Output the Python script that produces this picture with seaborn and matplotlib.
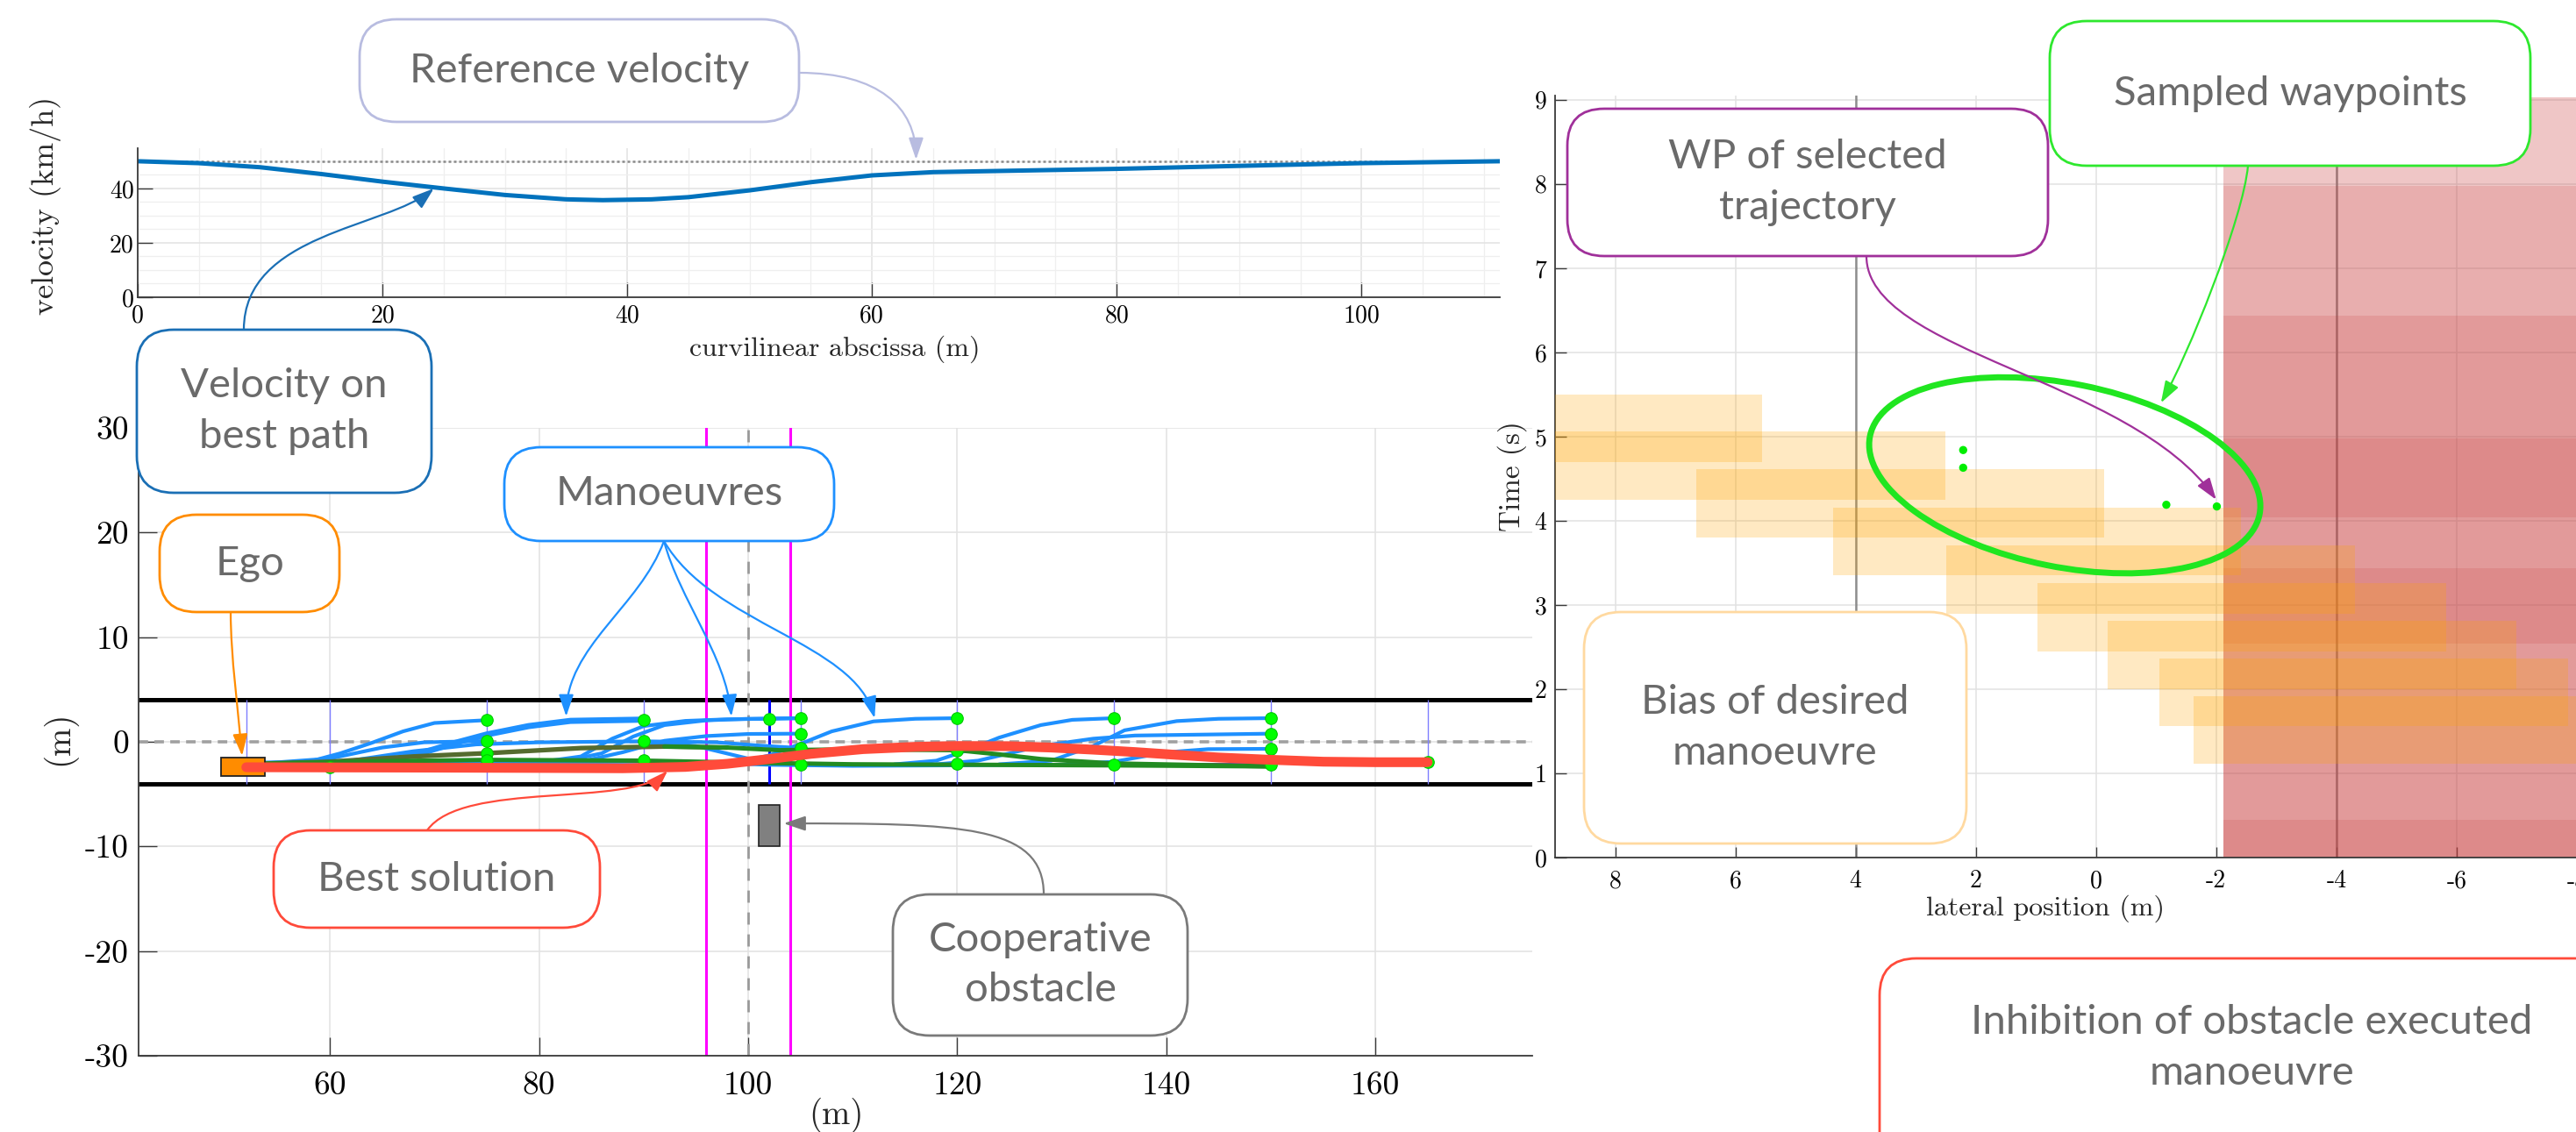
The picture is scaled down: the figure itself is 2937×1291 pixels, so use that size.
import numpy as np
import seaborn as sns
import matplotlib.pyplot as plt
from matplotlib.patches import Rectangle, FancyBboxPatch, FancyArrowPatch, Ellipse
from matplotlib.path import Path
from matplotlib.transforms import IdentityTransform, ScaledTranslation
from matplotlib.ticker import MultipleLocator

W, H = 2937, 1291

# ---- velocity panel ----
abscissa = [0, 5, 10, 15, 20, 25, 30, 35, 38, 42, 45, 50, 55, 60, 65, 70, 80, 90, 100, 111.3]
velocity = [50, 49.3, 47.8, 45.3, 42.5, 40, 37.6, 36.0, 35.7, 36.0, 36.8, 39.3, 42.3, 44.8, 46.0, 46.4, 47.2, 48.3, 49.3, 50.0]
ref_abscissa = [0, 111.3]
ref_velocity = [50, 50]

# ---- manoeuvre panel ----
road_edges = [4, -4]
stations = [52, 60, 75, 90, 105, 120, 135, 150, 165]
crossing_lines = [96, 104]
obstacle_line = 100
obstacle_track = 102
ego_box = [49.6, -3.3, 4.2, 1.75]        # x, y, length, width
obstacle_box = [101, -10, 2, 4]

blue_x = [
    [53, 58, 61, 64, 67, 70, 75],
    [53, 60, 65, 69, 75],
    [53, 62, 68, 74, 80, 90, 97, 101, 105],
    [53, 70, 90, 96, 102, 110, 120, 135],
    [80, 84, 87, 90, 94, 98, 102, 105],
    [82, 86, 89, 92, 96, 100, 105],
    [84, 88, 92, 96, 100, 105],
    [90, 95, 100, 105],
    [99, 102, 105, 108, 112, 116, 120],
    [114, 118, 121, 124, 128, 131, 135],
    [124, 129, 133, 136, 141, 145, 150],
    [118, 122, 128, 133, 137, 150],
    [130, 135, 140, 144, 150],
    [135, 142, 150],
]
blue_y = [
    [-2.1, -1.9, -1.1, -0.1, 1.0, 1.8, 2.07],
    [-2.1, -1.6, -0.55, -0.05, 0.08],
    [-2.1, -1.8, -0.9, -0.25, -0.05, 0.05, -0.05, -0.35, -0.6],
    [-2.1, -2.0, -1.9, -2.0, -2.2, -2.3, -2.25, -2.15],
    [-1.95, -1.4, 0.3, 1.5, 2.0, 2.15, 2.2, 2.26],
    [-1.95, -1.1, 0.5, 1.6, 2.05, 2.2, 2.26],
    [-1.9, -1.0, 0.1, 0.55, 0.75, 0.78],
    [0.05, -0.4, -1.6, -2.2],
    [-2.0, -1.3, -0.2, 1.0, 1.95, 2.2, 2.26],
    [-2.15, -1.8, -0.8, 0.4, 1.6, 2.1, 2.26],
    [-2.15, -1.8, -0.4, 1.1, 1.98, 2.2, 2.26],
    [-2.15, -1.8, -0.4, 0.3, 0.6, 0.78],
    [-2.2, -1.9, -1.0, -0.7, -0.67],
    [-2.15, -2.2, -2.2],
]
blue_thick_x = [53, 62, 66, 69, 72, 75, 79, 83, 90]
blue_thick_y = [-2.1, -2.0, -1.7, -1.0, -0.1, 0.7, 1.5, 2.0, 2.12]

olive_x = [53, 60, 68, 75, 84, 92, 98]
olive_y = [-2.1, -1.9, -1.4, -1.09, -0.6, -0.45, -0.55]
green_x = [
    [92, 98, 103, 110, 120, 124, 128, 135, 150],
    [53, 65, 75, 90, 100, 110, 135, 150],
]
green_y = [
    [-0.45, -0.55, -0.8, -0.72, -0.8, -1.2, -1.65, -2.07, -2.35],
    [-2.1, -1.85, -1.73, -1.8, -2.0, -2.15, -2.25, -2.35],
]
purple_x = [135, 150]
purple_y = [-2.1, -2.1]

best_x = [52, 60, 70, 80, 88, 94, 98, 102, 106, 111, 116, 120, 125, 129, 133, 137, 141, 145, 150, 155, 160, 165]
best_y = [-2.43, -2.45, -2.47, -2.5, -2.53, -2.4, -2.1, -1.65, -1.15, -0.7, -0.48, -0.4, -0.42, -0.55, -0.75,
          -0.98, -1.25, -1.5, -1.72, -1.9, -1.95, -1.95]

wp_x = [60, 75, 75, 75, 75, 90, 90, 90, 102, 105, 105, 105, 105, 120, 120, 120, 135, 135, 150, 150, 150, 150, 165]
wp_y = [-2.4, 2.07, 0.08, -1.09, -1.73, 2.12, 0.05, -1.79, 2.2, 2.26, 0.78, -0.6, -2.2, 2.26, -0.8, -2.07,
        2.26, -2.15, 2.26, 0.78, -0.67, -2.2, -1.95]

# ---- time / lateral panel ----
inhib_start = -2.12
inhib_t0 = [0, 0, 0, 4.04, 2.54, 0]
inhib_t1 = [9.03, 7.98, 6.44, 4.98, 3.44, 0.45]
bias_left = [12.36, 9.31, 6.65, 4.37, 2.49, 0.97, -0.2, -1.05, -1.62]
bias_right = [5.56, 2.51, -0.14, -2.41, -4.31, -5.82, -7.0, -7.86, -8.42]
bias_t0 = [4.70, 4.25, 3.80, 3.35, 2.90, 2.45, 2.00, 1.56, 1.11]
bias_t1 = [5.50, 5.06, 4.61, 4.16, 3.71, 3.26, 2.81, 2.36, 1.92]
lane_marks = [4, -4]
sampled_lat = [2.21, 2.21, -1.17, -2.01]
sampled_t = [4.84, 4.63, 4.19, 4.17]

sns.set_theme(style="white")
plt.rcParams.update({
    "font.family": "cmr10",
    "mathtext.fontset": "cm",
    "axes.unicode_minus": False,
    "axes.edgecolor": "#262626",
})
CALLOUT_FONT = ["Lato", "DejaVu Sans"]

fig = plt.figure(figsize=(W / 100, H / 100), dpi=100)


def ax_rect(x0, y0, x1, y1):
    return [x0 / W, 1 - y1 / H, (x1 - x0) / W, (y1 - y0) / H]


def matlab_axes(ax, labelsize, padx, pady, ticklen=12):
    for s in ["top", "right"]:
        ax.spines[s].set_visible(False)
    for s in ["left", "bottom"]:
        ax.spines[s].set_linewidth(1.3)
        ax.spines[s].set_color("#3a3a3a")
    ax.tick_params(which="major", direction="in", length=ticklen, width=1.0, color="#3a3a3a",
                   labelsize=labelsize, labelcolor="black", bottom=True, left=True)
    ax.tick_params(which="minor", length=0)
    ax.tick_params(axis="x", pad=padx)
    ax.tick_params(axis="y", pad=pady)
    ax.grid(True, which="major", color="#e2e2e2", lw=1.1)
    ax.set_axisbelow(True)


def place_labels(ax, xl, yl, xpos, ypos, xsize, ysize):
    ax.set_xlabel(xl, fontsize=xsize)
    ax.set_ylabel(yl, fontsize=ysize)
    ax.xaxis.set_label_coords(*xpos)
    ax.yaxis.set_label_coords(*ypos)
    ax.xaxis.label.set_verticalalignment("center")
    ax.yaxis.label.set_verticalalignment("center")


# ---------------- velocity ----------------
ax_v = fig.add_axes(ax_rect(157, 169, 1710, 339))
sns.lineplot(x=ref_abscissa, y=ref_velocity, ax=ax_v, color="#8a8a8a", lw=1.8, linestyle=(0, (1.2, 1.2)))
sns.lineplot(x=abscissa, y=velocity, ax=ax_v, color="#0072BD", lw=3.6, estimator=None, sort=False)
ax_v.set_xlim(0, 111.3)
ax_v.set_ylim(0, 54.8)
ax_v.set_xticks([0, 20, 40, 60, 80, 100])
ax_v.set_yticks([0, 20, 40])
ax_v.xaxis.set_minor_locator(MultipleLocator(5))
ax_v.yaxis.set_minor_locator(MultipleLocator(5))
matlab_axes(ax_v, 20, 6, 3)
ax_v.grid(True, which="minor", color="#efefef", lw=0.9)
place_labels(ax_v, "curvilinear abscissa (m)", "velocity (km/h)",
             ((952 - 157) / 1553, (339 - 398) / 170), ((52 - 157) / 1553, (339 - 234) / 170), 23, 26)

# ---------------- manoeuvres ----------------
ax_m = fig.add_axes(ax_rect(158, 488, 1747, 1204))
ax_m.set_xlim(41.7, 175)
ax_m.set_ylim(-30, 30)
for y in road_edges:
    ax_m.axhline(y, color="black", lw=3.6, zorder=2)
ax_m.axhline(0, color="#a0a0a0", lw=2.6, linestyle=(0, (3, 2)), zorder=2)
ax_m.vlines(stations, road_edges[1], road_edges[0], color="#7f7fff", lw=1.0, zorder=2)
for x in crossing_lines:
    ax_m.axvline(x, color="#ff00ff", lw=2.2, zorder=2.5)
ax_m.axvline(obstacle_line, color="#9a9a9a", lw=2.0, linestyle=(0, (5, 4)), zorder=2)
ax_m.vlines([obstacle_track], road_edges[1], road_edges[0], color="#0000ff", lw=2.2, zorder=2.5)
ax_m.add_patch(Rectangle((obstacle_box[0], obstacle_box[1]), obstacle_box[2], obstacle_box[3],
                         fc="#808080", ec="#222222", lw=1.2, zorder=3))

for xs, ys in zip(blue_x, blue_y):
    sns.lineplot(x=xs, y=ys, ax=ax_m, color="#1E90FF", lw=3.0, estimator=None, sort=False, zorder=3)
sns.lineplot(x=blue_thick_x, y=blue_thick_y, ax=ax_m, color="#1E90FF", lw=5.0, estimator=None, sort=False, zorder=3)
sns.lineplot(x=olive_x, y=olive_y, ax=ax_m, color="#556B2F", lw=3.8, estimator=None, sort=False, zorder=3.2)
for xs, ys in zip(green_x, green_y):
    sns.lineplot(x=xs, y=ys, ax=ax_m, color="#228B22", lw=3.6, estimator=None, sort=False, zorder=3.2)
sns.lineplot(x=purple_x, y=purple_y, ax=ax_m, color="#8B3A9B", lw=2.0, estimator=None, sort=False, zorder=3.1)
sns.scatterplot(x=wp_x, y=wp_y, ax=ax_m, color="#00ff00", s=95, edgecolor="#00c800", linewidth=0.8, zorder=4)
ax_m.add_patch(Rectangle((ego_box[0], ego_box[1]), ego_box[2], ego_box[3],
                         fc="#FF8C00", ec="#222222", lw=1.3, zorder=4.5))
sns.lineplot(x=best_x, y=best_y, ax=ax_m, color="#FF4B3A", lw=8.0, estimator=None, sort=False, zorder=5)
ax_m.set_xticks([60, 80, 100, 120, 140, 160])
ax_m.set_yticks([-30, -20, -10, 0, 10, 20, 30])
matlab_axes(ax_m, 27, 13, 8, ticklen=15)
place_labels(ax_m, "(m)", "(m)", ((953 - 158) / 1589, (1204 - 1272) / 716), ((67 - 158) / 1589, 0.506), 28, 28)

# ---------------- time / lateral ----------------
ax_t = fig.add_axes(ax_rect(1773, 109, 3075, 978))
ax_t.set_xlim(9, -10)
ax_t.set_ylim(0, 9.05)
for x in lane_marks:
    ax_t.axvline(x, color="#6f6f6f", lw=1.8, alpha=0.75, zorder=1.5)
for i, (t0, t1) in enumerate(zip(inhib_t0, inhib_t1)):
    ax_t.add_patch(Rectangle((inhib_start, t0), -10 - inhib_start - 5, t1 - t0, fc="#C83C3C", ec="none",
                             alpha=0.29 if i == 0 else 0.17, zorder=2))
for l, r, t0, t1 in zip(bias_left, bias_right, bias_t0, bias_t1):
    ax_t.add_patch(Rectangle((r, t0), l - r, t1 - t0, fc="#FFA500", ec="none", alpha=0.24, zorder=3))
sns.scatterplot(x=sampled_lat, y=sampled_t, ax=ax_t, color="#00ee00", s=45, edgecolor="none", zorder=5)
ax_t.set_xticks([8, 6, 4, 2, 0, -2, -4, -6, -8])
ax_t.set_yticks(range(10))
matlab_axes(ax_t, 20, 10, 7, ticklen=9)
place_labels(ax_t, "lateral position (m)", "Time (s)",
             ((2332 - 1773) / 1302, (978 - 1036) / 869), ((1724 - 1773) / 1302, 0.5), 23, 24)

sel = Ellipse((0, 0), 4.53, 2.09, angle=-11.4, fill=False, ec="#20E620", lw=5,
              transform=fig.dpi_scale_trans + ScaledTranslation(0.52, 4.54, ax_t.transData), zorder=6)
ax_t.add_artist(sel)


# ---------------- callouts ----------------
def callout(x0, y0, x1, y1, text, color, cx=None, cy=None):
    box = FancyBboxPatch((x0 / 100, (H - y1) / 100), (x1 - x0) / 100, (y1 - y0) / 100,
                         boxstyle="round,pad=0,rounding_size=0.42", transform=fig.dpi_scale_trans,
                         fc="white", ec=color, lw=2.0, zorder=5)
    fig.add_artist(box)
    cx = (x0 + x1) / 2 if cx is None else cx
    cy = (y0 + y1) / 2 if cy is None else cy
    fig.text(cx / W, 1 - cy / H, text, ha="center", va="center", fontsize=34, color="#6a6a6a",
             family=CALLOUT_FONT, fontweight="normal", linespacing=1.45, zorder=6)


def curved_arrow(ax, start, tip, color, angA, angB, lenA, lenB):
    p0 = np.array([start[0], H - start[1]], dtype=float)
    p3 = ax.transData.transform(tip)
    a, b = np.radians(angA), np.radians(angB)
    p1 = p0 + lenA * np.array([np.cos(a), np.sin(a)])
    p2 = p3 - lenB * np.array([np.cos(b), np.sin(b)])
    path = Path([p0, p1, p2, p3], [Path.MOVETO, Path.CURVE4, Path.CURVE4, Path.CURVE4])
    arr = FancyArrowPatch(path=path, arrowstyle="-|>,head_length=0.5,head_width=0.17", color=color,
                          lw=1.6, mutation_scale=30, transform=IdentityTransform(), zorder=4)
    fig.add_artist(arr)


callout(410, 22, 911, 139, "Reference velocity", "#B8BCE0")
curved_arrow(ax_v, (911, 83), (63.6, 50.6), "#B8BCE0", 0, -90, 90, 60)

callout(156, 376, 492, 562, "Velocity on\nbest path", "#1A6FB5")
curved_arrow(ax_v, (278, 376), (24.2, 40.0), "#1A6FB5", 90, 40, 110, 70)

callout(575, 510, 951, 617, "Manoeuvres", "#1E90FF")
curved_arrow(ax_m, (757, 617), (82.6, 2.43), "#1E90FF", -110, -90, 80, 80)
curved_arrow(ax_m, (757, 617), (98.4, 2.43), "#1E90FF", -75, -85, 70, 70)
curved_arrow(ax_m, (757, 617), (112.1, 2.26), "#1E90FF", -60, -75, 110, 90)

callout(182, 587, 387, 698, "Ego", "#FF8C00")
curved_arrow(ax_m, (263, 698), (51.6, -1.34), "#FF8C00", -90, -85, 50, 50)

callout(312, 947, 684, 1058, "Best solution", "#FF4A3A")
curved_arrow(ax_m, (487, 947), (92.3, -2.77), "#FF4A3A", 55, 45, 70, 60)

callout(1018, 1020, 1354, 1181, "Cooperative\nobstacle", "#7A7A7A")
curved_arrow(ax_m, (1190, 1020), (103.4, -7.8), "#7A7A7A", 90, 180, 80, 200)

callout(1787, 124, 2335, 292, "WP of selected\ntrajectory", "#A0309A")
curved_arrow(ax_t, (2128, 292), (-2.0, 4.25), "#A0309A", -90, -55, 110, 170)

callout(2337, 24, 2885, 189, "Sampled waypoints", "#2EE82E")
curved_arrow(ax_t, (2563, 189), (-1.08, 5.4), "#2EE82E", -95, -120, 60, 60)

callout(1806, 698, 2242, 962, "Bias of desired\nmanoeuvre", "#FFD9A0")
callout(2143, 1093, 3010, 1360, "Inhibition of obstacle executed\nmanoeuvre", "#FF4A3A", cx=2567, cy=1195)

fig.savefig("out.png", dpi=100)
